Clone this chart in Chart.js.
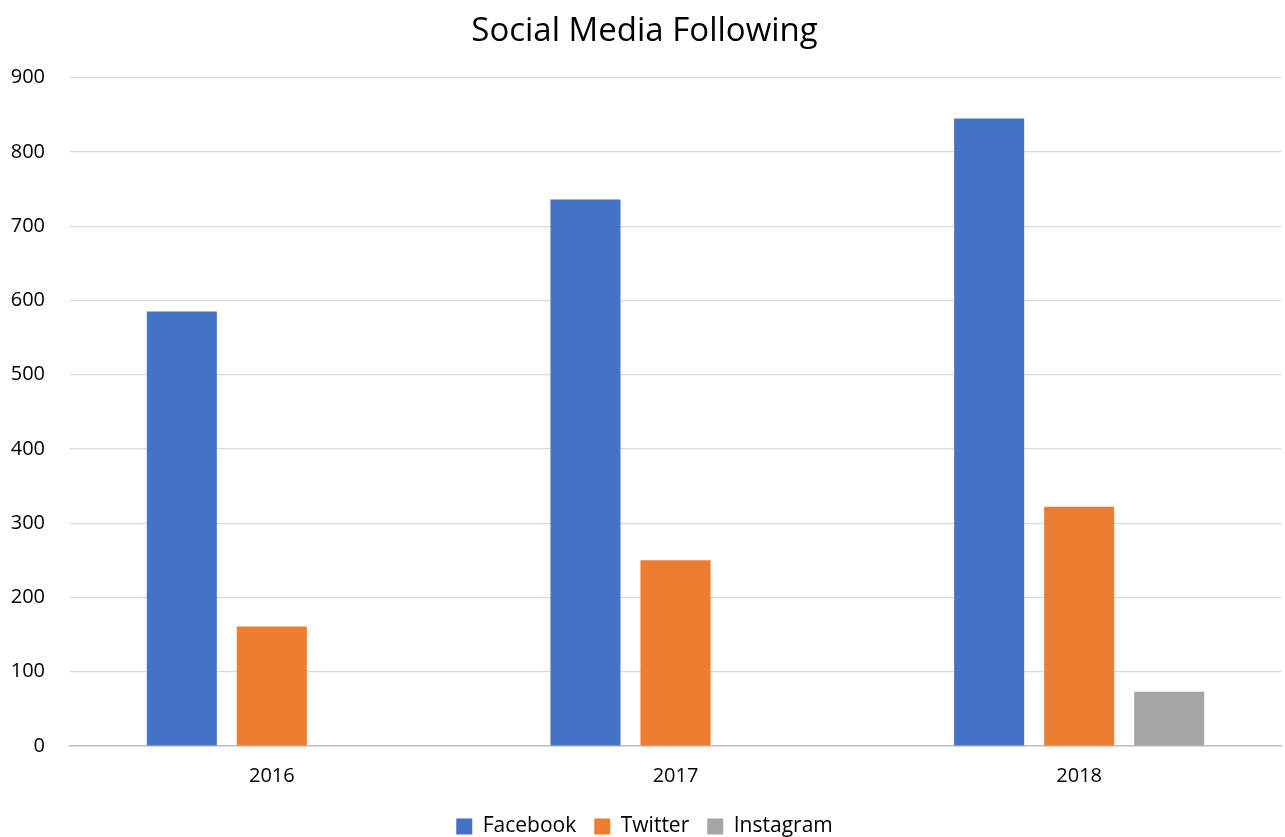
<!DOCTYPE html>
<html>
<head>
<meta charset="utf-8">
<script src="https://cdn.jsdelivr.net/npm/chart.js@4.4.1/dist/chart.umd.min.js"></script>
<style>
  html, body { margin: 0; padding: 0; background: #fff; }
  #wrap { width: 1285px; height: 837px; }
</style>
</head>
<body>
<div id="wrap"><canvas id="chart"></canvas></div>
<script>
// data
const years = ['2016', '2017', '2018'];
const facebook = [585, 736, 845];
const twitter = [161, 250, 322];
const instagram = [null, null, 73];
const yTicks = [0, 100, 200, 300, 400, 500, 600, 700, 800, 900];

const fontFamily = "'Open Sans', 'Liberation Sans', sans-serif";

const ctx = document.getElementById('chart').getContext('2d');
new Chart(ctx, {
    type: 'bar',
    data: {
        labels: years,
        datasets: [
            { label: 'Facebook', data: facebook, backgroundColor: '#4472c4' },
            { label: 'Twitter', data: twitter, backgroundColor: '#ed7d31' },
            { label: 'Instagram', data: instagram, backgroundColor: '#a5a5a5' },
        ]
    },
    options: {
        responsive: true,
        maintainAspectRatio: false,
        animation: false,
        categoryPercentage: 0.669,
        barPercentage: 0.778,
        // negative bottom padding pushes the legend row closer to the edge
        layout: { padding: { left: 8, right: 4, top: 12, bottom: -10 } },
        plugins: {
            title: {
                display: true,
                text: 'Social Media Following',
                color: '#000',
                font: { family: fontFamily, size: 33, weight: 'normal' },
                padding: { top: 0, bottom: 26 }
            },
            legend: {
                position: 'bottom',
                labels: {
                    color: '#000',
                    font: { family: fontFamily, size: 21 },
                    boxWidth: 16,
                    boxHeight: 16,
                    padding: 18
                }
            },
            tooltip: { enabled: false }
        },
        scales: {
            x: {
                grid: { display: false },
                border: { display: true, color: '#bfbfbf', width: 1.5 },
                ticks: {
                    color: '#000',
                    font: { family: fontFamily, size: 20, lineHeight: 1 },
                    padding: 12
                }
            },
            y: {
                min: 0,
                max: 900,
                afterBuildTicks: (axis) => {
                    axis.ticks = yTicks.map(v => ({ value: v }));
                },
                afterFit: (axis) => {
                    axis.width = 62;
                },
                grid: { color: '#d9d9d9', lineWidth: 1.2, drawTicks: false },
                border: { display: false },
                ticks: {
                    color: '#000',
                    font: { family: fontFamily, size: 20 },
                    padding: 25
                }
            }
        }
    }
});
</script>
</body>
</html>
